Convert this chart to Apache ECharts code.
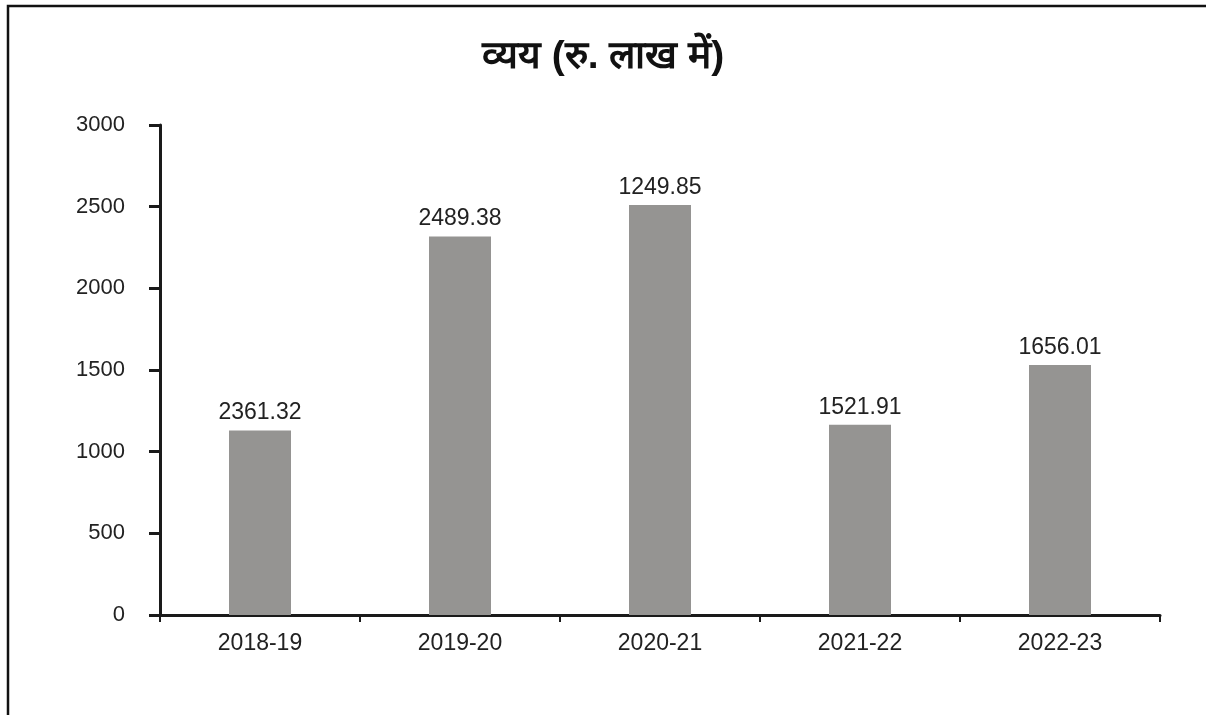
<!DOCTYPE html>
<html><head><meta charset="utf-8">
<script src="https://cdn.jsdelivr.net/npm/echarts@6/dist/echarts.min.js"></script>
<style>html,body{margin:0;padding:0;background:#fff}#c{width:1206px;height:715px}</style>
</head><body><div id="c"></div>
<script>
const categories = ['2018-19','2019-20','2020-21','2021-22','2022-23'];
const barHeights = [1129, 2318, 2510, 1165, 1530];
const barLabels = ['2361.32','2489.38','1249.85','1521.91','1656.01'];
const yTicks = [0,500,1000,1500,2000,2500,3000];
const titleText = 'व्यय (रु. लाख में)';

const chart = echarts.init(document.getElementById('c'));
chart.setOption({
  backgroundColor:'#fff',
  animation:false,
  title:{text:titleText,left:'center',top:33,textStyle:{fontSize:39,fontWeight:'bold',color:'#111',fontFamily:'sans-serif'}},
  graphic:[{type:'rect',shape:{x:8,y:6,width:1210,height:730},style:{fill:'none',stroke:'#111',lineWidth:2.5}}],
  grid:{left:160,right:46,top:125,bottom:100,containLabel:false},
  xAxis:{type:'category',data:categories,
    axisLine:{lineStyle:{color:'#1a1a1a',width:3}},
    axisTick:{show:true,length:7,lineStyle:{color:'#1a1a1a',width:2}},
    axisLabel:{fontSize:23,color:'#222',margin:17,fontFamily:'Liberation Sans, Arial, sans-serif'}},
  yAxis:{type:'value',min:0,max:3000,interval:500,
    axisLine:{show:true,lineStyle:{color:'#1a1a1a',width:3}},
    axisTick:{show:true,length:11,lineStyle:{color:'#1a1a1a',width:3}},
    splitLine:{show:false},
    axisLabel:{fontSize:22,color:'#222',margin:35,fontFamily:'Liberation Sans, Arial, sans-serif',
      formatter:v=>yTicks.includes(v)?String(v):''}},
  series:[{type:'bar',data:barHeights,barWidth:62,
    itemStyle:{color:'#959492'},
    label:{show:true,position:'top',distance:6,fontSize:23,color:'#222',fontFamily:'Liberation Sans, Arial, sans-serif',
      formatter:p=>barLabels[p.dataIndex]}}]
});
</script></body></html>
